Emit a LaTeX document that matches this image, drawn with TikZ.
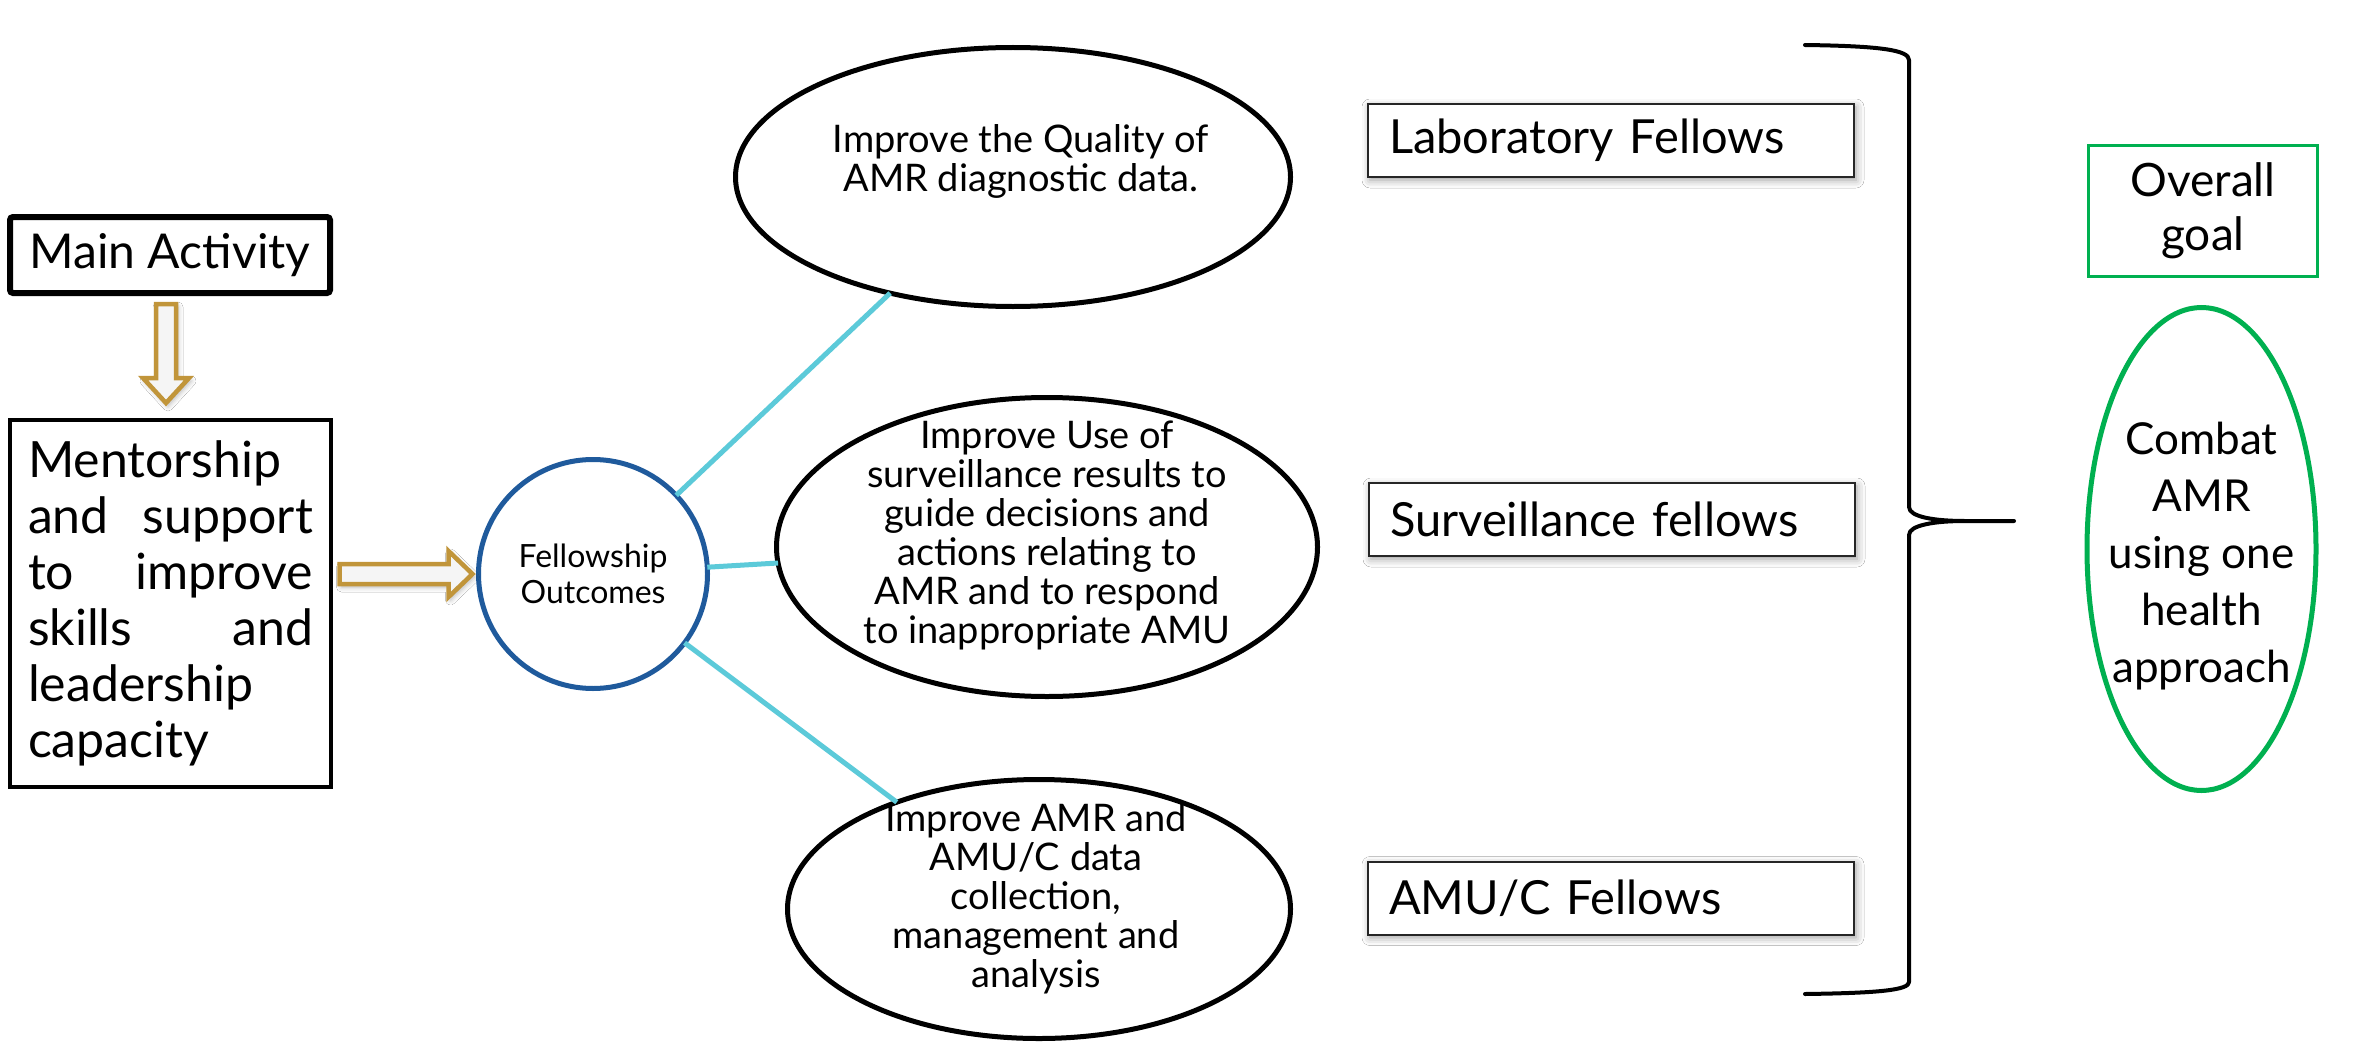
\documentclass[tikz,border=0pt]{standalone}
\usepackage{fontspec}
\setmainfont{Lato}
\usetikzlibrary{shapes.geometric,calc,shadows.blur}
\definecolor{gold}{HTML}{C1953A}
\definecolor{fblue}{HTML}{1F5A9C}
\definecolor{cyanl}{HTML}{5CCAD9}
\definecolor{ggreen}{HTML}{00B050}
\begin{document}
\begin{tikzpicture}[x=1pt,y=-1pt,
  every node/.style={inner sep=0pt, outer sep=0pt},
  blackbox/.style={draw=black, rectangle},
  fellowbox/.style={draw=black!85, line width=2pt, minimum width=486pt, minimum height=73pt,
     text width=444pt, align=left, fill=white, font=\fontsize{47}{52}\selectfont,
     blur shadow={shadow xshift=2pt, shadow yshift=-3pt, shadow blur radius=8pt, shadow opacity=40}},
  outell/.style={draw=black, line width=5pt, ellipse, fill=white},
  etext/.style={align=center, font=\fontsize{38}{39}\selectfont},
  conn/.style={draw=cyanl, line width=5pt},
  goldarr/.style={draw=gold, line width=4.5pt, fill=gray!8, line join=miter,
     blur shadow={shadow xshift=2pt, shadow yshift=-3pt, shadow blur radius=5pt, shadow opacity=30}}
]
\useasboundingbox[fill=white] (0,0) rectangle (2366,1054);

% left column
\node[blackbox, line width=6pt, rounded corners=3pt, minimum width=320pt, minimum height=76pt,
      font=\fontsize{48}{56}\selectfont] (ma) at (170,255) {Main Activity};
\node[blackbox, line width=4pt, minimum width=321pt, minimum height=367pt, text width=285pt,
      align=left, font=\fontsize{50}{56}\selectfont] (ment) at (170.5,603.5)
  {Mentorship\\and\hfill support\\to\hfill improve\\skills\hfill and\\leadership\\capacity};

% fellowship circle
\node[circle, draw=fblue, line width=5pt, minimum size=229pt, align=center,
      font=\fontsize{32}{36}\selectfont] (fo) at (593,574) {Fellowship\\Outcomes};

% block arrows
\draw[goldarr, shift={($(ma.south)+(-4,11)$)}]
  (-10,0) -- (10,0) -- (10,74) -- (23,74) -- (0,99) -- (-23,74) -- (-10,74) -- cycle;
\draw[goldarr, shift={($(fo.west)+(-6,0)$)}]
  (0,0) -- (-24,-23) -- (-24,-10) -- (-133,-10) -- (-133,10) -- (-24,10) -- (-24,23) -- cycle;

% outcome ellipses
\node[outell, minimum width=555pt, minimum height=259pt] (top) at (1013,177) {};
\node[outell, minimum width=541pt, minimum height=299pt] (mid) at (1047,547) {};
\node[outell, minimum width=503pt, minimum height=259pt] (bot) at (1039,909) {};

\node[etext] (toptext) at ([xshift=8pt,yshift=16pt]top.center)
  {Improve the Quality of\\AMR diagnostic data.};
\node[etext] (midtext) at ([yshift=12pt]mid.center)
  {Improve Use of\\surveillance results to\\guide decisions and\\actions relating to\\AMR and to respond\\to inappropriate AMU};
\node[etext] (bottext) at ([xshift=-3pt,yshift=10pt]bot.center)
  {Improve AMR and\\AMU/C data\\collection,\\management and\\analysis};

% connectors
\draw[conn] (fo) -- (top);
\draw[conn] (fo) -- (mid);
\draw[conn] (fo) -- (bot);

% fellows boxes
\node[fellowbox] (lab) at (1611,140.5) {Laboratory Fellows};
\node[fellowbox] (surv) at (1612,519.5) {Surveillance fellows};
\node[fellowbox] (amuc) at (1611,898) {AMU/C Fellows};

% brace
\coordinate (btip) at (2014,521);
\draw[line width=4pt, line join=round, line cap=round]
  (1805,45) .. controls (1880,46) and (1909,50) .. (1909,60)
  -- (1909,507) .. controls (1909,517) and (1935,521) .. (1965,521) -- (btip)
  -- (1965,521) .. controls (1935,521) and (1909,525) .. (1909,535)
  -- (1909,982) .. controls (1909,990) and (1880,993) .. (1805,994);

% goal
\node[draw=ggreen, line width=2.5pt, minimum width=229pt, minimum height=131pt, align=center,
      font=\fontsize{46}{54}\selectfont] (goal) at (2203,211) {Overall\\goal};
\node[draw=ggreen, line width=5pt, ellipse, minimum width=229pt, minimum height=483pt] (combat) at (2201.5,549) {};
\node[align=center, font=\fontsize{44}{57}\selectfont] (combattext) at ([yshift=-7pt]combat.center)
  {Combat\\AMR\\using one\\health\\approach};
\end{tikzpicture}
\end{document}
